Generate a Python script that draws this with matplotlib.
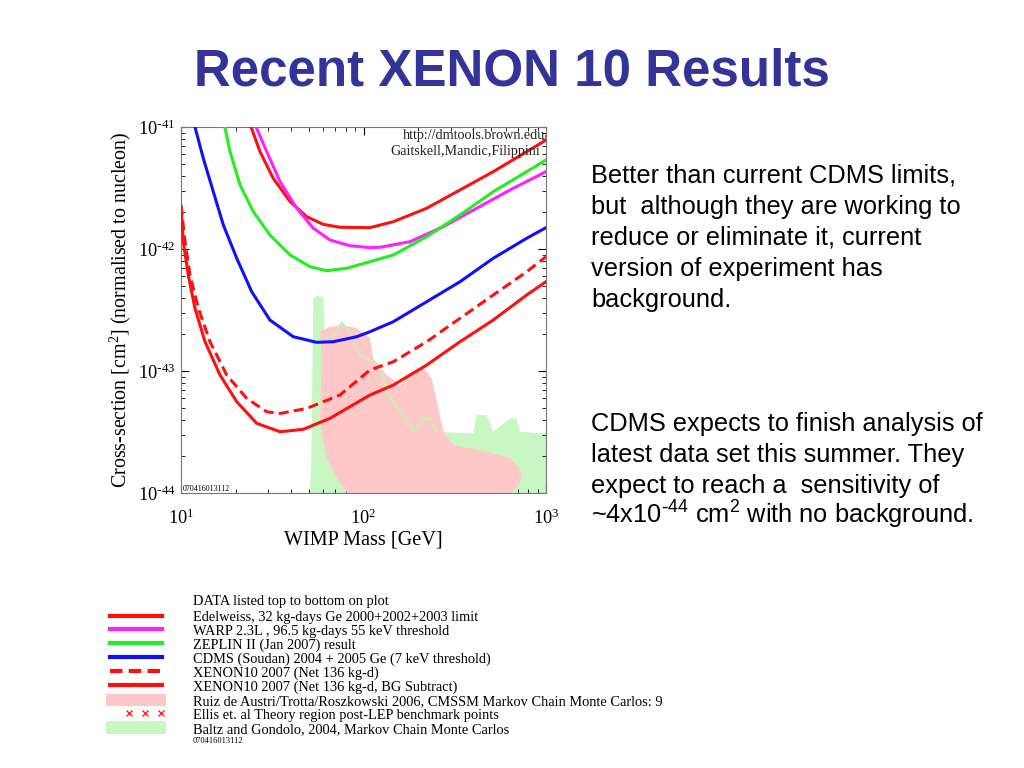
import numpy as np
import matplotlib
matplotlib.use("Agg")
import matplotlib.pyplot as plt
from matplotlib.lines import Line2D
from matplotlib.patches import Patch
from matplotlib.legend_handler import HandlerLine2D

plt.rcParams["mathtext.default"] = "regular"

# 曲線データ (WIMP質量 [GeV], log10 断面積 [cm^2])
edel_m = [24.2, 27.1, 32.0, 39.6, 48.8, 60.2, 74.3, 108.5, 145.7, 222, 338, 514, 784, 1000]
edel_s = [-41.0, -41.202, -41.420, -41.612, -41.735, -41.798, -41.822, -41.825, -41.776,
          -41.666, -41.516, -41.366, -41.202, -41.107]

warp_m = [25.8, 29.5, 34.9, 43.05, 53.1, 65.5, 84.3, 108.5, 123.1, 179.8, 273.7, 417, 635, 1000]
warp_s = [-41.0, -41.202, -41.448, -41.666, -41.830, -41.926, -41.973, -41.989, -41.986,
          -41.940, -41.817, -41.666, -41.516, -41.366]

zep_m = [17.4, 18.56, 21.06, 24.9, 30.7, 39.6, 50.9, 62.9, 80.9, 108.5, 145.7, 222, 338, 514, 784, 1000]
zep_s = [-41.0, -41.202, -41.475, -41.694, -41.885, -42.049, -42.145, -42.178, -42.158,
         -42.104, -42.049, -41.899, -41.721, -41.530, -41.366, -41.270]

cdms_m = [11.93, 13.25, 15.03, 17.06, 20.2, 24.4, 30.7, 41.2, 55.4, 68.3, 91.8, 108.5, 145.7,
          222, 338, 514, 784, 1000]
cdms_s = [-41.0, -41.257, -41.530, -41.803, -42.076, -42.350, -42.582, -42.719, -42.765,
          -42.760, -42.719, -42.678, -42.596, -42.432, -42.268, -42.076, -41.912, -41.825]

xe_m = [10.0, 10.52, 11.2, 12.44, 14.42, 17.8, 22.9, 29.5, 34.9, 48.8, 74.3, 108.5, 145.7,
        222, 338, 514, 784, 1000]
xe_s = [-41.64, -41.940, -42.213, -42.486, -42.760, -43.033, -43.224, -43.334, -43.348,
        -43.307, -43.197, -42.992, -42.924, -42.760, -42.568, -42.377, -42.186, -42.063]

xebg_m = [10.0, 10.29, 10.96, 11.93, 13.54, 16.36, 20.2, 26.0, 34.9, 46.8, 65.5, 108.5, 145.7,
          222, 338, 514, 784, 1000]
xebg_s = [-41.653, -41.940, -42.213, -42.486, -42.760, -43.033, -43.252, -43.429, -43.498,
          -43.478, -43.388, -43.197, -43.115, -42.951, -42.760, -42.582, -42.377, -42.268]

# 理論領域 (輪郭)
ruiz_m = [81.2, 71.3, 62.9, 57.8, 59.0, 57.8, 65.5, 77.5, 91.8, 108.5, 113.2, 134, 148.8,
          158.5, 166.7, 179.8, 212.7, 236.4, 257, 273.7, 310.5, 473, 635, 720, 736, 691, 635]
ruiz_s = [-44.0, -43.877, -43.713, -43.443, -42.893, -42.678, -42.637, -42.623, -42.650,
          -42.732, -42.896, -43.033, -43.082, -43.123, -43.082, -43.019, -42.978, -43.060,
          -43.306, -43.498, -43.607, -43.661, -43.716, -43.798, -43.880, -43.961, -44.0]

baltz_m = [50.9, 51.6, 53.1, 55.4, 60.2, 61.5, 69.8, 75.9, 82.3, 95.7, 113.2, 123.1, 134,
           145.7, 165.2, 179.8, 187.5, 212.7, 231.4, 251.8, 399.6, 417, 473, 514, 635, 691,
           720, 1000, 1000]
baltz_s = [-44.0, -43.811, -42.404, -42.385, -42.391, -42.730, -42.705, -42.596, -42.664,
           -42.869, -42.924, -42.951, -43.170, -43.252, -43.361, -43.443, -43.498, -43.388,
           -43.388, -43.498, -43.511, -43.361, -43.361, -43.498, -43.388, -43.388, -43.498,
           -43.511, -44.0]

legend_labels = [
    "Edelweiss, 32 kg-days Ge 2000+2002+2003 limit",
    "WARP 2.3L , 96.5 kg-days 55 keV threshold",
    "ZEPLIN II (Jan 2007) result",
    "CDMS (Soudan) 2004 + 2005 Ge (7 keV threshold)",
    "XENON10 2007 (Net 136 kg-d)",
    "XENON10 2007 (Net 136 kg-d, BG Subtract)",
    "Ruiz de Austri/Trotta/Roszkowski 2006, CMSSM Markov Chain Monte Carlos: 9",
    "Ellis et. al Theory region post-LEP benchmark points",
    "Baltz and Gondolo, 2004, Markov Chain Monte Carlos",
]

para1 = ["Better than current CDMS limits,",
         "but  although they are working to",
         "reduce or eliminate it, current",
         "version of experiment has",
         "background."]
para2 = ["CDMS expects to finish analysis of",
         "latest data set this summer. They",
         "expect to reach a  sensitivity of",
         "~4x10$^{\\text{-}44}$ cm$^{2}$ with no background."]

RED = "#ff1010"
MAG = "#ff22ff"
GRN = "#22ee22"
BLU = "#1010ff"
PINK = "#ffc8c8"
LGRN = "#c8f7c3"


class RightMarkers(HandlerLine2D):
    # 凡例の x x x を右寄せにする
    def get_xdata(self, legend, xdescent, ydescent, width, height, fontsize):
        xdata = np.linspace(-xdescent + 0.38 * width, width - 0.09 * width, 3)
        return xdata, xdata


fig = plt.figure(figsize=(10.24, 7.68), dpi=100)
fig.patch.set_facecolor("white")

fig.text(0.5, 1 - 86 / 768, "Recent XENON 10 Results", ha="center", va="baseline",
         fontsize=36.8, fontweight="bold", color="#333399", family="Liberation Sans")

ax = fig.add_axes([181 / 1024, 1 - 493 / 768, 365 / 1024, 366 / 768])
ax.set_xscale("log")
ax.set_yscale("log")

# 領域
ax.fill(baltz_m, 10.0 ** np.array(baltz_s), color=LGRN, lw=0, zorder=1)
ax.fill(ruiz_m, 10.0 ** np.array(ruiz_s), color=PINK, lw=0, zorder=2)
ax.plot(baltz_m[5:20], 10.0 ** np.array(baltz_s[5:20]), color="#c4f2bc", lw=1.3, zorder=3)

# 曲線
lw = 2.2
ax.plot(edel_m, 10.0 ** np.array(edel_s), color=RED, lw=lw, zorder=5)
ax.plot(warp_m, 10.0 ** np.array(warp_s), color=MAG, lw=lw, zorder=5)
ax.plot(zep_m, 10.0 ** np.array(zep_s), color=GRN, lw=lw, zorder=5)
ax.plot(cdms_m, 10.0 ** np.array(cdms_s), color=BLU, lw=lw, zorder=5)
ax.plot(xe_m, 10.0 ** np.array(xe_s), color=RED, lw=lw, ls=(0, (3.3, 1.7)), zorder=5)
ax.plot(xebg_m, 10.0 ** np.array(xebg_s), color=RED, lw=lw, zorder=5)

ax.set_xlim(10, 1000)
ax.set_ylim(1e-44, 1e-41)
ax.set_xticks([10, 100, 1000])
ax.set_xticklabels(["$10^{1}$", "$10^{2}$", "$10^{3}$"])
ax.set_yticks([1e-44, 1e-43, 1e-42, 1e-41])
ax.set_yticklabels(["$10^{\\text{-}44}$", "$10^{\\text{-}43}$", "$10^{\\text{-}42}$", "$10^{\\text{-}41}$"])
ax.tick_params(which="both", direction="in", top=True, right=True)
ax.tick_params(which="major", length=6, labelsize=13.2)
ax.tick_params(which="minor", length=3)
ax.tick_params(axis="x", which="major", pad=11)
ax.tick_params(axis="y", which="major", pad=4)
for lab in ax.get_xticklabels() + ax.get_yticklabels():
    lab.set_family("Liberation Serif")
for sp in ax.spines.values():
    sp.set_color("#777777")

ax.set_xlabel("WIMP Mass [GeV]", family="Liberation Serif", fontsize=14.6, labelpad=2)
ax.set_ylabel("Cross-section [cm$^{2}$] (normalised to nucleon)", family="Liberation Serif",
              fontsize=14.4, labelpad=3)

ax.text(0.608, 0.978, "http://dmtools.brown.edu/", transform=ax.transAxes, ha="left",
        va="center", fontsize=10.2, family="Liberation Serif", color="#222222",
        clip_on=True, zorder=6)
ax.text(0.5726, 0.932, "Gaitskell,Mandic,Filippini", transform=ax.transAxes, ha="left",
        va="center", fontsize=10.2, family="Liberation Serif", color="#222222",
        clip_on=True, zorder=6)
ax.text(0.004, 0.011, "070416013112", transform=ax.transAxes, ha="left", va="center",
        fontsize=5.7, family="Liberation Serif", zorder=6)

# 右側のテキスト
for i, line in enumerate(para1):
    fig.text(591 / 1024, 1 - (183 + 31 * i) / 768, line, ha="left", va="baseline",
             fontsize=18.3, family="Liberation Sans")
for i, line in enumerate(para2):
    fig.text(591 / 1024, 1 - (431 + 31 * i) / 768, line, ha="left", va="baseline",
             fontsize=18.3, family="Liberation Sans")

# 凡例
x_handle = Line2D([], [], color=RED, ls="none", marker="x", markersize=4, markeredgewidth=0.9)
handles = [
    Line2D([], [], color=RED, lw=3),
    Line2D([], [], color=MAG, lw=3),
    Line2D([], [], color=GRN, lw=3),
    Line2D([], [], color=BLU, lw=3),
    Line2D([], [], color=RED, lw=3, ls=(0, (3, 1.5))),
    Line2D([], [], color=RED, lw=3),
    Patch(color=PINK, lw=0),
    x_handle,
    Patch(color=LGRN, lw=0),
]
fig.legend(handles, legend_labels, loc="upper left", bbox_to_anchor=(106 / 1024, 1 - 610 / 768),
           frameon=False, handlelength=4.15, handleheight=0.97, handletextpad=1.9,
           labelspacing=-0.03, numpoints=3, borderpad=0, borderaxespad=0,
           handler_map={x_handle: RightMarkers()},
           prop={"family": "Liberation Serif", "size": 10.4})
fig.text(193 / 1024, 1 - 601 / 768, "DATA listed top to bottom on plot", va="center",
         fontsize=10.4, family="Liberation Serif")
fig.text(193 / 1024, 1 - 741 / 768, "070416013112", fontsize=6, family="Liberation Serif",
         va="center")

plt.savefig("out.png", dpi=100)
